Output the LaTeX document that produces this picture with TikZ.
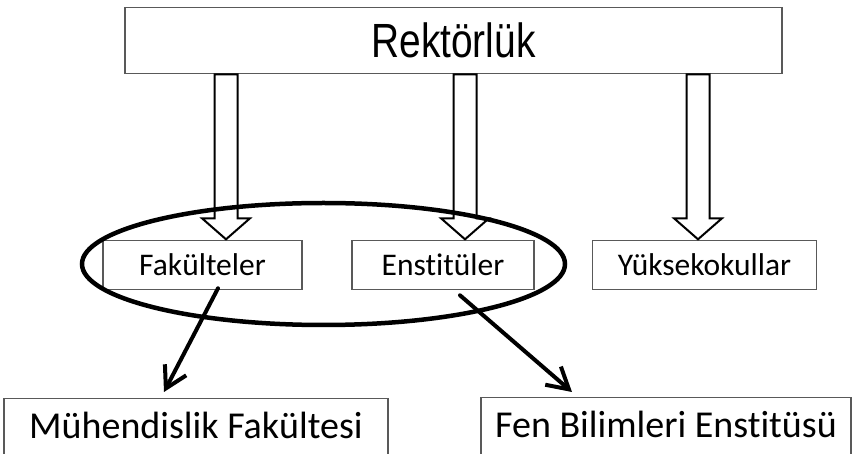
\documentclass[tikz,border=0pt]{standalone}
\usepackage{fontspec}
\setmainfont{Carlito}[Ligatures=NoCommon]
\newfontfamily\rekfont{Liberation Sans}[FakeStretch=0.81]
\usetikzlibrary{arrows.meta}
\tikzset{
  unit/.style={draw=black!65, line width=1.3pt, rectangle, inner sep=0pt,
    anchor=north, minimum height=49pt, font=\fontsize{31.5}{36}\selectfont},
  wide/.style={draw=black!65, line width=1.3pt, rectangle, inner xsep=0pt,
    inner ysep=12pt, text height=28pt, text depth=30pt, anchor=north,
    font=\fontsize{38}{44}\selectfont},
  hollow/.style={draw=black, line width=2pt, fill=white, line join=miter},
  link/.style={line width=4pt, line cap=round,
    -{Straight Barb[length=21pt,width=24pt]}}
}
\begin{document}
\begin{tikzpicture}[x=1pt, y=-1pt]
  \useasboundingbox (0,0) rectangle (852,454);
  \node (rek) [draw=black!65, line width=1.3pt, minimum width=657pt,
    minimum height=66pt, anchor=north,
    font={\rekfont\fontsize{48}{56}\selectfont}] at (453.5,7) {Rektörlük\hspace{86pt}};
  \node (fak) [unit, minimum width=199pt] at (202.5,240) {Fakülteler};
  \node (ens) [unit, minimum width=182pt] at (443,240) {Enstitüler};
  \node (yuk) [unit, minimum width=224pt] at (704.5,240) {Yüksekokullar};
  \node (muh) [wide, minimum width=384pt] at (196,398) {Mühendislik Fakültesi};
  \node (fen) [wide, minimum width=370pt] at (666,397) {Fen Bilimleri Enstitüsü};
  % hollow arrows from the top box
  \foreach \x in {226,465,698}
    \draw[hollow] (rek.south -| {\x-11.5},0) -- ++(0,144) -- ++(-12.5,0)
      -- ++(24,21) -- ++(24,-21) -- ++(-12.5,0) -- ++(0,-144) -- cycle;
  \draw[line width=4.5pt] (323.5,264) ellipse [x radius=241.5pt, y radius=61pt];
  \draw[link] ([xshift=15.5pt,yshift=2pt]fak.south) -- ([xshift=-32pt,yshift=6pt]muh.north);
  \draw[link] ([xshift=17pt,yshift=-5pt]ens.south) -- ([xshift=-94pt,yshift=5pt]fen.north);
\end{tikzpicture}
\end{document}
